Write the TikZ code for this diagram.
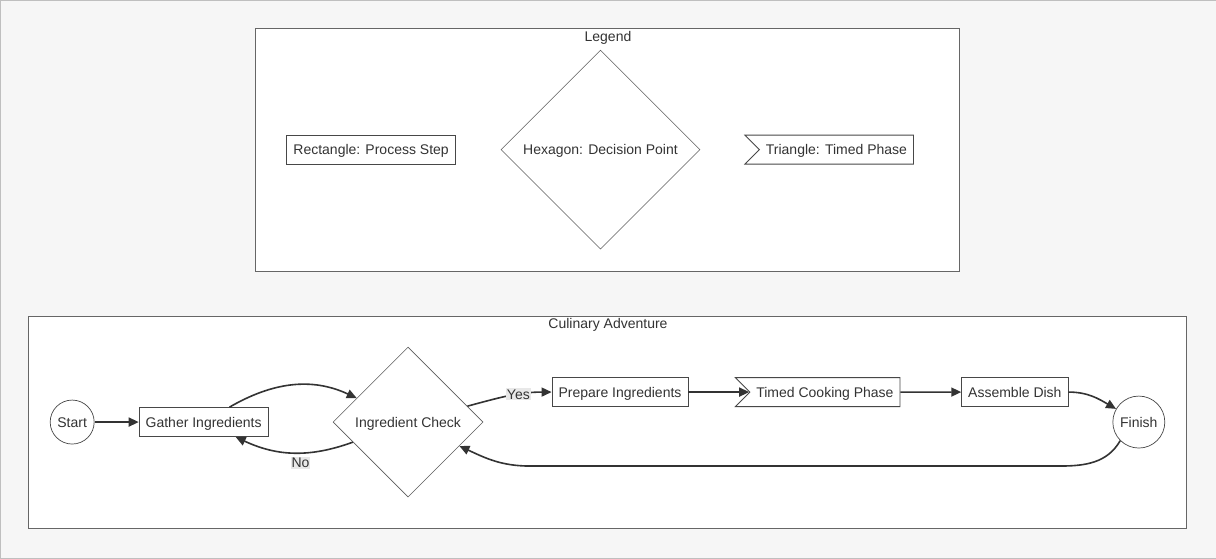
\documentclass[tikz,border=0pt]{standalone}
\usepackage{fontspec}
\setmainfont{Liberation Sans}
\usetikzlibrary{positioning,shapes.geometric,shapes.symbols,arrows.meta}
\definecolor{ink}{HTML}{333333}
\definecolor{paper}{HTML}{F6F6F6}
\definecolor{rim}{HTML}{666666}
\definecolor{lblbg}{HTML}{E8E8E8}

\begin{document}
\begin{tikzpicture}[
    x=1pt, y=-1pt,
    every node/.style={font=\fontsize{14}{16}\selectfont, text=ink, text height=10pt, text depth=0pt},
    frame/.style={draw=rim, fill=white, line width=0.8pt},
    P/.style={draw=ink!90, fill=white, line width=0.9pt, minimum height=29pt, inner xsep=6.5pt},
    D/.style={draw=ink!80, fill=white, diamond, aspect=1, inner sep=0pt, line width=0.6pt},
    T/.style={draw=ink!90, fill=white, signal, signal to=nowhere, signal from=west,
              line width=0.9pt, minimum height=29pt, inner xsep=6.5pt},
    C/.style={draw=ink!90, fill=white, circle, inner sep=1pt, line width=0.7pt},
    link/.style={draw=ink, line width=1.6pt, -{Triangle[length=10pt,width=9pt]}},
    tag/.style={fill=lblbg, inner sep=1pt},
  ]
  % background and the two frames
  \fill[paper, draw=black!25] (0,0) rectangle (1216,558);
  \draw[frame] (255,28) rectangle (960,271);
  \draw[frame] (28,316) rectangle (1187,528);
  \node (legt) at (608,36) {Legend};
  \node (cult) at (608,323) {Culinary Adventure};

  % legend
  \node[P] (lrect) at (371,149.5) {Rectangle: Process Step};
  \node[D, minimum size=199pt] (ldiam) at (600.5,149.5) {Hexagon: Decision Point};
  \node[T] (ltri) at (836.5,149.5) {Triangle: Timed Phase};

  % flow
  \node[C, minimum size=44pt] (start) at (72,422) {Start};
  \node[P] (gather) at (203.5,422) {Gather Ingredients};
  \node[D, minimum size=150pt] (check) at (408,422) {Ingredient Check};
  \node[P] (prep) at (620,392) {Prepare Ingredients};
  \node[T] (cook) at (825,392) {Timed Cooking Phase};
  \node[P] (dish) at (1015,392) {Assemble Dish};
  \node[C, minimum size=52pt] (finish) at (1139,422) {Finish};
  \coordinate (back1) at (1060,466);
  \coordinate (back2) at (530,466);

  \draw[link] (start) -- (gather);
  \draw[link] (gather) to[out=30,in=155] (check);
  \draw[link] (check) to[out=200,in=-25] node[tag, pos=0.44, below=3pt]{No} (gather);
  \draw[link] (check) to[out=15,in=180] node[tag, pos=0.62]{Yes} (prep);
  \draw[link] (prep) -- (cook.west);
  \draw[link] (cook) -- (dish);
  \draw[link] (dish.east) to[out=0,in=150] (finish);
  \draw[link] (finish.-135) to[out=-120,in=0] (back1) -- (back2) to[out=180,in=-25] (check);
\end{tikzpicture}
\end{document}
